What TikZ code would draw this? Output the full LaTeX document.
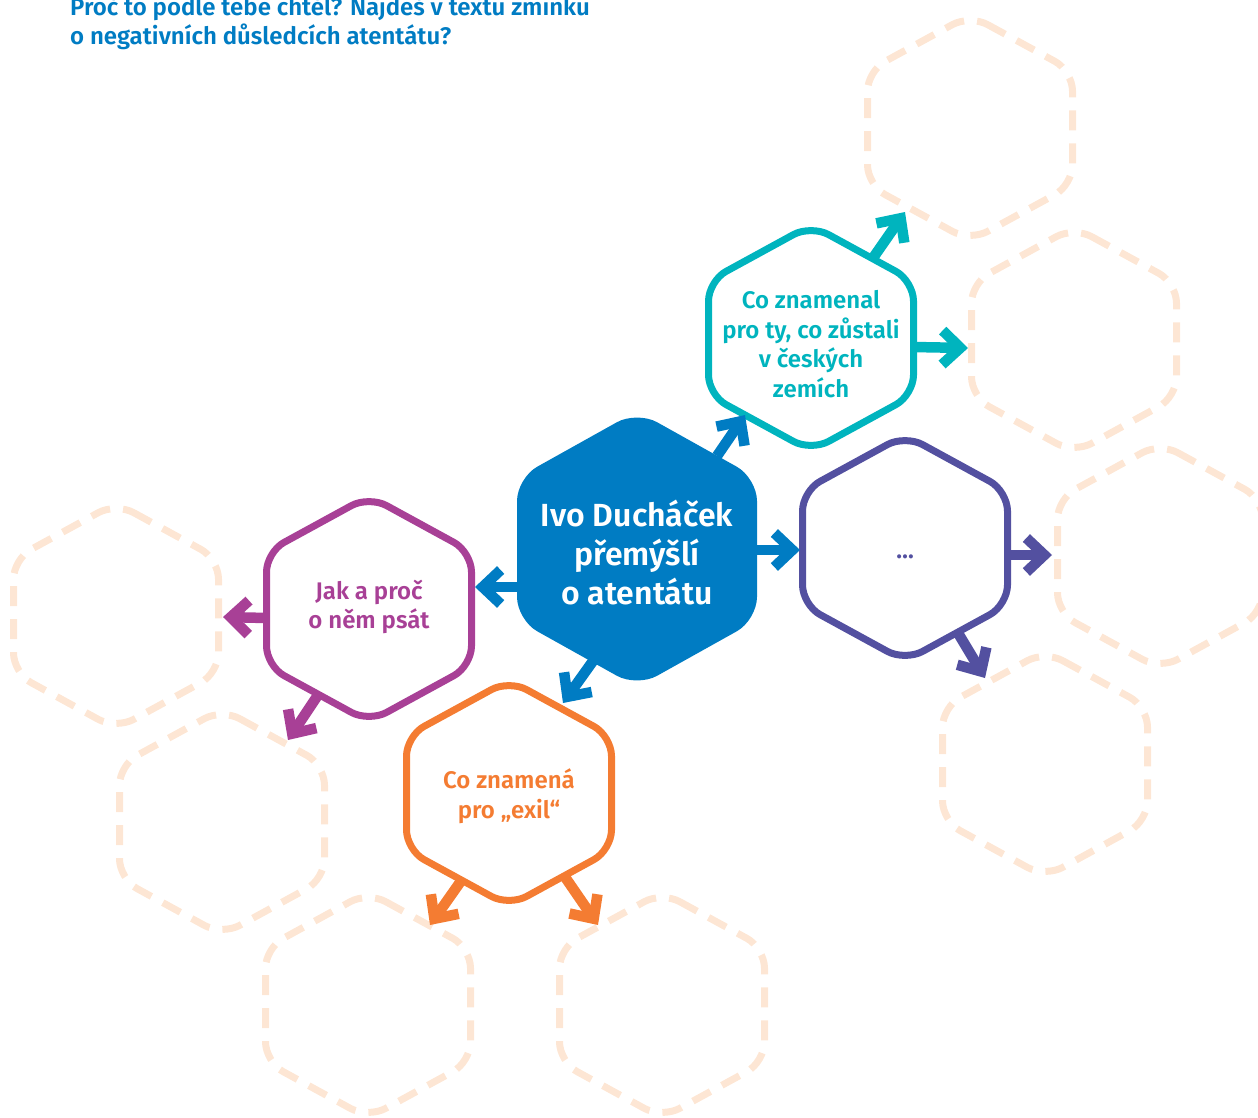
\documentclass[tikz,border=0pt]{standalone}
\usepackage{fontspec}
\setmainfont{Fira Sans}[BoldFont={Fira Sans SemiBold}]
\usetikzlibrary{arrows.meta}
\definecolor{ivoblue}{RGB}{0,124,195}
\definecolor{zemteal}{RGB}{0,180,190}
\definecolor{dotpurple}{RGB}{83,80,160}
\definecolor{psatmagenta}{RGB}{168,64,150}
\definecolor{exilorange}{RGB}{244,124,50}
\definecolor{peach}{RGB}{253,230,212}

\begin{document}
\begin{tikzpicture}[x=1pt,y=-1pt]
            \tikzstyle{every node}+=[inner sep=0pt]
            \tikzstyle{hextext}=[font=\bfseries\fontsize{24}{29.5}\selectfont, align=center]
            \tikzstyle{hexline}=[line width=7pt, rounded corners=20pt]
            \tikzstyle{ghost}=[draw=peach, line width=7pt, dash pattern=on 20pt off 13pt, rounded corners=20pt]
            \tikzstyle{arr}=[line width=10.5pt, -{Straight Barb[sharp, length=18pt, width=34pt]}]
            \useasboundingbox (0,0) rectangle (1258,1117);
            % question
            \node[anchor=base west, font=\bfseries\fontsize{24}{29}\selectfont, text=ivoblue] (q1) at (70,15) {Proč to podle tebe chtěl? Najdeš v textu zmínku};
            \node[anchor=base west, font=\bfseries\fontsize{24}{29}\selectfont, text=ivoblue] (q2) at (70,44) {o negativních důsledcích atentátu?};
            % centres
            \coordinate (ivo) at (637,549);
            \coordinate (teal) at (811,338);
            \coordinate (purple) at (905,548);
            \coordinate (magenta) at (369,609);
            \coordinate (orange) at (509,793);
            \coordinate (d1) at (970,128);
            \coordinate (d2) at (1074,340);
            \coordinate (d3) at (1160,556);
            \coordinate (d4) at (1045,764);
            \coordinate (d5) at (116,616);
            \coordinate (d6) at (222,822);
            \coordinate (d7) at (368,1005);
            \coordinate (d8) at (662,1005);
            % empty hexagons
            \foreach \c in {d1,d2,d3,d4,d5,d6,d7,d8}
                \draw[ghost] (\c) ++(0,-113) -- ++(102.5,56) -- ++(0,114) -- ++(-102.5,56) -- ++(-102.5,-56) -- ++(0,-114) -- cycle;
            % hexagons
            \fill[ivoblue, rounded corners=23pt] (ivo) ++(0,-138) -- ++(120,67) -- ++(0,142) -- ++(-120,67) -- ++(-120,-67) -- ++(0,-142) -- cycle;
            \draw[hexline, zemteal] (teal) ++(0,-113) -- ++(102.5,56) -- ++(0,114) -- ++(-102.5,56) -- ++(-102.5,-56) -- ++(0,-114) -- cycle;
            \draw[hexline, dotpurple] (purple) ++(0,-113) -- ++(102.5,56) -- ++(0,114) -- ++(-102.5,56) -- ++(-102.5,-56) -- ++(0,-114) -- cycle;
            \draw[hexline, psatmagenta] (magenta) ++(0,-113) -- ++(102.5,56) -- ++(0,114) -- ++(-102.5,56) -- ++(-102.5,-56) -- ++(0,-114) -- cycle;
            \draw[hexline, exilorange] (orange) ++(0,-113) -- ++(102.5,56) -- ++(0,114) -- ++(-102.5,56) -- ++(-102.5,-56) -- ++(0,-114) -- cycle;
            % texts
            \node[hextext, text=white, font=\bfseries\fontsize{32}{39}\selectfont] (ivotext) at (637,553) {Ivo Ducháček\\přemýšlí\\o atentátu};
            \node[hextext, text=zemteal] (tealtext) at (811,344) {Co znamenal\\pro ty, co zůstali\\v českých\\zemích};
            \node[hextext, text=dotpurple] (purpletext) at (905,557) {…};
            \node[hextext, text=psatmagenta] (magentatext) at (369,607) {Jak a proč\\o něm psát};
            \node[hextext, text=exilorange] (orangetext) at (509,796) {Co znamená\\pro „exil“};
            % arrows
            \draw[arr, ivoblue] ([shift={(80,-93)}]ivo) -- ([shift={(-66,77)}]teal);
            \draw[arr, ivoblue] ([shift={(120,1)}]ivo) -- ([shift={(-105,2)}]purple);
            \draw[arr, ivoblue] ([shift={(-120,38)}]ivo) -- ([shift={(106,-22)}]magenta);
            \draw[arr, ivoblue] ([shift={(-44,112)}]ivo) -- ([shift={(54,-90)}]orange);
            \draw[arr, zemteal] ([shift={(62,-80)}]teal) -- ([shift={(-65,84)}]d1);
            \draw[arr, zemteal] ([shift={(102,9)}]teal) -- ([shift={(-106,8)}]d2);
            \draw[arr, dotpurple] ([shift={(102,7)}]purple) -- ([shift={(-108,-1)}]d3);
            \draw[arr, dotpurple] ([shift={(53,85)}]purple) -- ([shift={(-60,-86)}]d4);
            \draw[arr, psatmagenta] ([shift={(-102,9)}]magenta) -- ([shift={(107,1)}]d5);
            \draw[arr, psatmagenta] ([shift={(-51,86)}]magenta) -- ([shift={(66,-82)}]d6);
            \draw[arr, exilorange] ([shift={(-48,88)}]orange) -- ([shift={(62,-80)}]d7);
            \draw[arr, exilorange] ([shift={(56,84)}]orange) -- ([shift={(-64,-80)}]d8);
        \end{tikzpicture}
\end{document}
